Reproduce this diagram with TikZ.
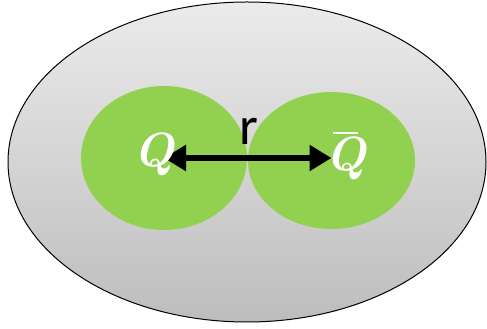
\documentclass[tikz,border=0pt]{standalone}
\usepackage{fontspec}
\newfontfamily\labelfont{Carlito}
\definecolor{qgInk}{HTML}{000000}
\definecolor{qgGreen}{HTML}{92D050}
\definecolor{qgTop}{HTML}{EBEBEB}
\definecolor{qgBottom}{HTML}{BDBDBD}
\usetikzlibrary{shapes.geometric,arrows.meta}

\begin{document}
\begin{tikzpicture}[x=1pt,y=1pt,
                    medium/.style={ellipse,draw=qgInk,line width=1pt,
                                   top color=qgTop,bottom color=qgBottom,
                                   minimum width=478pt,minimum height=320pt},
                    quark/.style={ellipse,fill=qgGreen,inner sep=0pt},
                    charge/.style={text=white,font=\fontsize{48}{52}\selectfont\bfseries\itshape}]
  \useasboundingbox (0,0) rectangle (487,329);
  \node[medium] (plasma) at (247,167) {};
  \node[quark,minimum width=166pt,minimum height=144pt] (left) at (164,171) {};
  \node[quark,minimum width=167pt,minimum height=137pt] (right) at (331.5,168.5) {};
  % separation between the pair
  \draw[{Triangle[length=22pt,width=25pt]}-{Triangle[length=22pt,width=25pt]},
        line width=6pt,qgInk] (left.center) -- (left.center -| right.center);
  \node[charge,anchor=base] (Q) at (154,162) {Q};
  \node[charge,anchor=base] (Qbar) at (346,158) {Q};
  \draw[white,line width=2pt] ([shift={(-13pt,38pt)}]Qbar.base) -- ([shift={(12pt,38pt)}]Qbar.base);
  \node[anchor=base,font=\labelfont\fontsize{54}{58}\selectfont] (r) at (249,184) {r};
\end{tikzpicture}
\end{document}
